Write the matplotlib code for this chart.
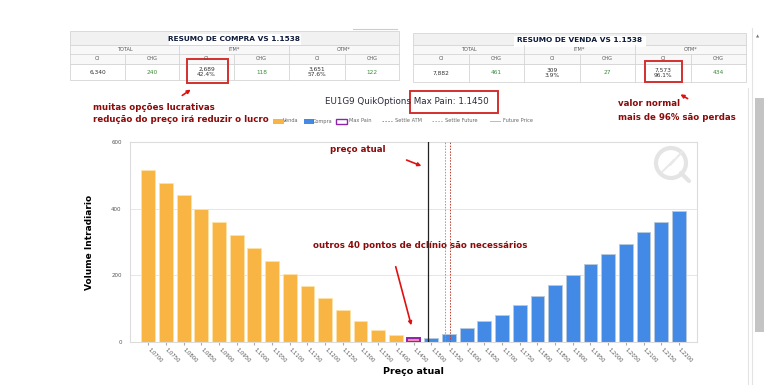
import numpy as np
import matplotlib.pyplot as plt
from matplotlib.patches import Rectangle, Circle

W, H = 783, 385

# dados do gráfico
strikes = ['1.0700', '1.0750', '1.0800', '1.0850', '1.0900', '1.0950', '1.1000', '1.1050',
           '1.1100', '1.1150', '1.1200', '1.1250', '1.1300', '1.1350', '1.1400', '1.1450',
           '1.1500', '1.1550', '1.1600', '1.1650', '1.1700', '1.1750', '1.1800', '1.1850',
           '1.1900', '1.1950', '1.2000', '1.2050', '1.2100', '1.2150', '1.2200']
venda = [517, 478, 440, 400, 361, 322, 282, 244, 204, 169, 132, 96, 62, 35, 22,
         0, 0, 0, 0, 0, 0, 0, 0, 0, 0, 0, 0, 0, 0, 0, 0]
compra = [0, 0, 0, 0, 0, 0, 0, 0, 0, 0, 0, 0, 0, 0, 0,
          0, 13, 25, 42, 62, 81, 110, 139, 171, 200, 233, 264, 295, 330, 360, 392]
max_pain_strike = '1.1450'
max_pain_val = 13
future_price = 1.1490
settle_future = 1.1538
settle_atm = 1.1552

# tabelas de resumo
col_heads = ['OI', 'CHG', 'OI', 'CHG', 'OI', 'CHG']
group_heads = ['TOTAL', 'ITM*', 'OTM*']
compra_row = ['6,340', '240', '2,689\n42.4%', '118', '3,651\n57.6%', '122']
venda_row = ['7,882', '461', '309\n3.9%', '27', '7,573\n96.1%', '434']

orange = '#f8b543'
blue = '#428ae6'
dark_red = '#8b0a0a'

fig = plt.figure(figsize=(W / 100, H / 100), dpi=100)

# --- gráfico principal ---
ax = fig.add_axes([130 / W, 1 - 342 / H, (697 - 130) / W, (342 - 142) / H])
x = np.arange(len(strikes))
ax.bar(x, venda, width=0.78, color=orange, edgecolor='#fde2a6', linewidth=0.6, zorder=2)
ax.bar(x, compra, width=0.78, color=blue, edgecolor='#b9c9dc', linewidth=0.6, zorder=2)
mp = strikes.index(max_pain_strike)
ax.bar(mp, max_pain_val, width=0.78, color='#f28ab8', edgecolor='#8e24aa', linewidth=1.4, zorder=3)


def pos(p):
    return (p - float(strikes[0])) / 0.005


ax.axvline(pos(future_price), color='#222222', lw=0.9, zorder=4)
ax.axvline(pos(settle_future), color='#999999', lw=0.7, ls=(0, (1.5, 1.5)), zorder=4)
ax.axvline(pos(settle_atm), color='#c0392b', lw=0.7, ls=(0, (1.5, 1.5)), zorder=4)

ax.set_xlim(-1.03, len(strikes) + 0.02)
ax.set_ylim(0, 600)
ax.set_yticks([0, 200, 400, 600])
ax.grid(axis='y', color='#e6e6e6', lw=0.7, zorder=0)
for s in ax.spines.values():
    s.set_color('#dcdcdc')
    s.set_linewidth(0.8)
ax.tick_params(axis='y', length=0, pad=6, labelsize=4, labelcolor='#555555')
ax.set_xticks(x)
ax.set_xticklabels(strikes, rotation=-45, ha='left', va='center', rotation_mode='anchor',
                   fontsize=3.8, color='#555555')
ax.tick_params(axis='x', length=2, color='#aaaaaa', pad=3)
ax.set_ylabel('Volume Intradiario', fontsize=6.5, fontweight='bold', labelpad=12)
ax.set_xlabel('Preço atual', fontsize=6.8, fontweight='bold', labelpad=2)

# --- sobreposição em pixels para tabelas, legenda e notas ---
ov = fig.add_axes([0, 0, 1, 1], zorder=10)
ov.set_xlim(0, W)
ov.set_ylim(H, 0)
ov.axis('off')
ov.patch.set_alpha(0)


def table(edges, title, row, boxcol, top, bottom):
    ys = [top, 45, 54, 64, bottom]
    x0, x1 = edges[0], edges[-1]
    ov.add_patch(Rectangle((x0, ys[0]), x1 - x0, ys[1] - ys[0], fc='#f1f1f1', ec='#d5d5d5', lw=0.6))
    ov.add_patch(Rectangle((x0, ys[1]), x1 - x0, ys[3] - ys[1], fc='#f8f8f8', ec='#d5d5d5', lw=0.6))
    ov.add_patch(Rectangle((x0, ys[3]), x1 - x0, ys[4] - ys[3], fc='white', ec='#d5d5d5', lw=0.6))
    ov.plot([x0, x1], [ys[2], ys[2]], color='#d5d5d5', lw=0.6)
    cx = (x0 + x1) / 2
    ov.add_patch(Rectangle((cx - 66, ys[0] + 3), 132, 11, fc='white', ec='none'))
    ov.text(cx, (ys[0] + ys[1]) / 2 + 1, title, ha='center', va='center', fontsize=5.3,
            fontweight='bold', color='#0d1a3a')
    for i, e in enumerate(edges[1:-1]):
        y_start = ys[1] if i % 2 == 1 else ys[2]
        ov.plot([e, e], [y_start, ys[4]], color='#d5d5d5', lw=0.6)
    for g in range(3):
        gx = (edges[2 * g] + edges[2 * g + 2]) / 2
        ov.text(gx, (ys[1] + ys[2]) / 2, group_heads[g], ha='center', va='center', fontsize=3.6, color='#555555')
    for c in range(6):
        cxx = (edges[c] + edges[c + 1]) / 2
        ov.text(cxx, (ys[2] + ys[3]) / 2, col_heads[c], ha='center', va='center', fontsize=3.6, color='#555555')
        color = '#3d8b3d' if col_heads[c] == 'CHG' else '#333333'
        ov.text(cxx, (ys[3] + ys[4]) / 2, row[c], ha='center', va='center', fontsize=4.2,
                color=color, linespacing=1.1)
    bx0, bx1, by0, by1 = boxcol
    ov.add_patch(Rectangle((bx0, by0), bx1 - bx0, by1 - by0, fc='none', ec='#d32f2f', lw=1.4))


table([70, 125, 179, 234, 289, 345, 399], 'RESUMO DE COMPRA VS 1.1538', compra_row,
      (187, 228, 59, 83), 31, 80)
table([413, 469, 524, 580, 635, 691, 746], 'RESUMO DE VENDA VS 1.1538', venda_row,
      (645, 682, 61, 82), 33, 82)

# barra de rolagem
ov.plot([748, 748], [88, 385], color='#e3e3e3', lw=0.8)
ov.plot([752, 752], [28, 385], color='#e3e3e3', lw=0.8)
ov.add_patch(Rectangle((755, 98), 9, 234, fc='#c4c4c4', ec='none'))
ov.text(758, 37, '▲', fontsize=3, color='#777777', ha='center', va='center')
ov.plot([353, 397], [29, 29], color='#cccccc', lw=0.8)

# título do gráfico
ov.text(407, 101, 'EU1G9 QuikOptions Max Pain: 1.1450', ha='center', va='center',
        fontsize=6.3, color='#2b2b3b')
ov.add_patch(Rectangle((410, 91), 88, 22, fc='none', ec='#d32f2f', lw=1.4))

# legenda
ly = 121
ov.add_patch(Rectangle((273, ly - 2.5), 11, 5, fc=orange, ec='none'))
ov.text(283, ly, 'Venda', fontsize=3.6, color='#666666', va='center')
ov.add_patch(Rectangle((304, ly - 2.5), 10, 5, fc=blue, ec='none'))
ov.text(313, ly, 'Compra', fontsize=3.6, color='#666666', va='center')
ov.add_patch(Rectangle((336, ly - 2.5), 11, 5, fc='none', ec='#8e24aa', lw=1))
ov.text(349, ly, 'Max Pain', fontsize=3.6, color='#666666', va='center')
ov.plot([382, 392], [ly, ly], color='#e57373', lw=0.7, ls=(0, (1.5, 1.5)))
ov.text(395, ly, 'Settle ATM', fontsize=3.6, color='#666666', va='center')
ov.plot([432, 442], [ly, ly], color='#aaaaaa', lw=0.7, ls=(0, (1.5, 1.5)))
ov.text(445, ly, 'Settle Future', fontsize=3.6, color='#666666', va='center')
ov.plot([490, 500], [ly, ly], color='#bbbbbb', lw=0.7)
ov.text(503, ly, 'Future Price', fontsize=3.6, color='#666666', va='center')

# marca d'água
ov.add_patch(Circle((671, 163), 15, fc='none', ec='#e4e4e4', lw=3))
ov.plot([681, 689], [173, 181], color='#e4e4e4', lw=3, solid_capstyle='round')
ov.plot([662, 674, 670, 682], [172, 160, 165, 152], color='#e9e9e9', lw=1.5)

# anotações
note = dict(fontsize=6.2, fontweight='bold', color=dark_red, va='center', ha='left')
ov.text(93, 107, 'muitas opções lucrativas', **note)
ov.text(93, 120, 'redução do preço irá reduzir o lucro', **note)
ov.text(618, 104, 'valor normal', **note)
ov.text(618, 117, 'mais de 96% são perdas', **note)
ov.text(330, 150, 'preço atual', **note)
ov.text(313, 246, 'outros 40 pontos de dclínio são necessários', **note)

arrow = dict(arrowstyle='-|>', color='#e01010', lw=1.2, mutation_scale=5)
ov.annotate('', xy=(193, 88), xytext=(180, 97), arrowprops=arrow)
ov.annotate('', xy=(678, 93), xytext=(690, 100), arrowprops=arrow)
ov.annotate('', xy=(424, 167), xytext=(404, 159), arrowprops=arrow)
ov.annotate('', xy=(412, 328), xytext=(395, 264), arrowprops=arrow)

fig.savefig('out.png', dpi=100)
